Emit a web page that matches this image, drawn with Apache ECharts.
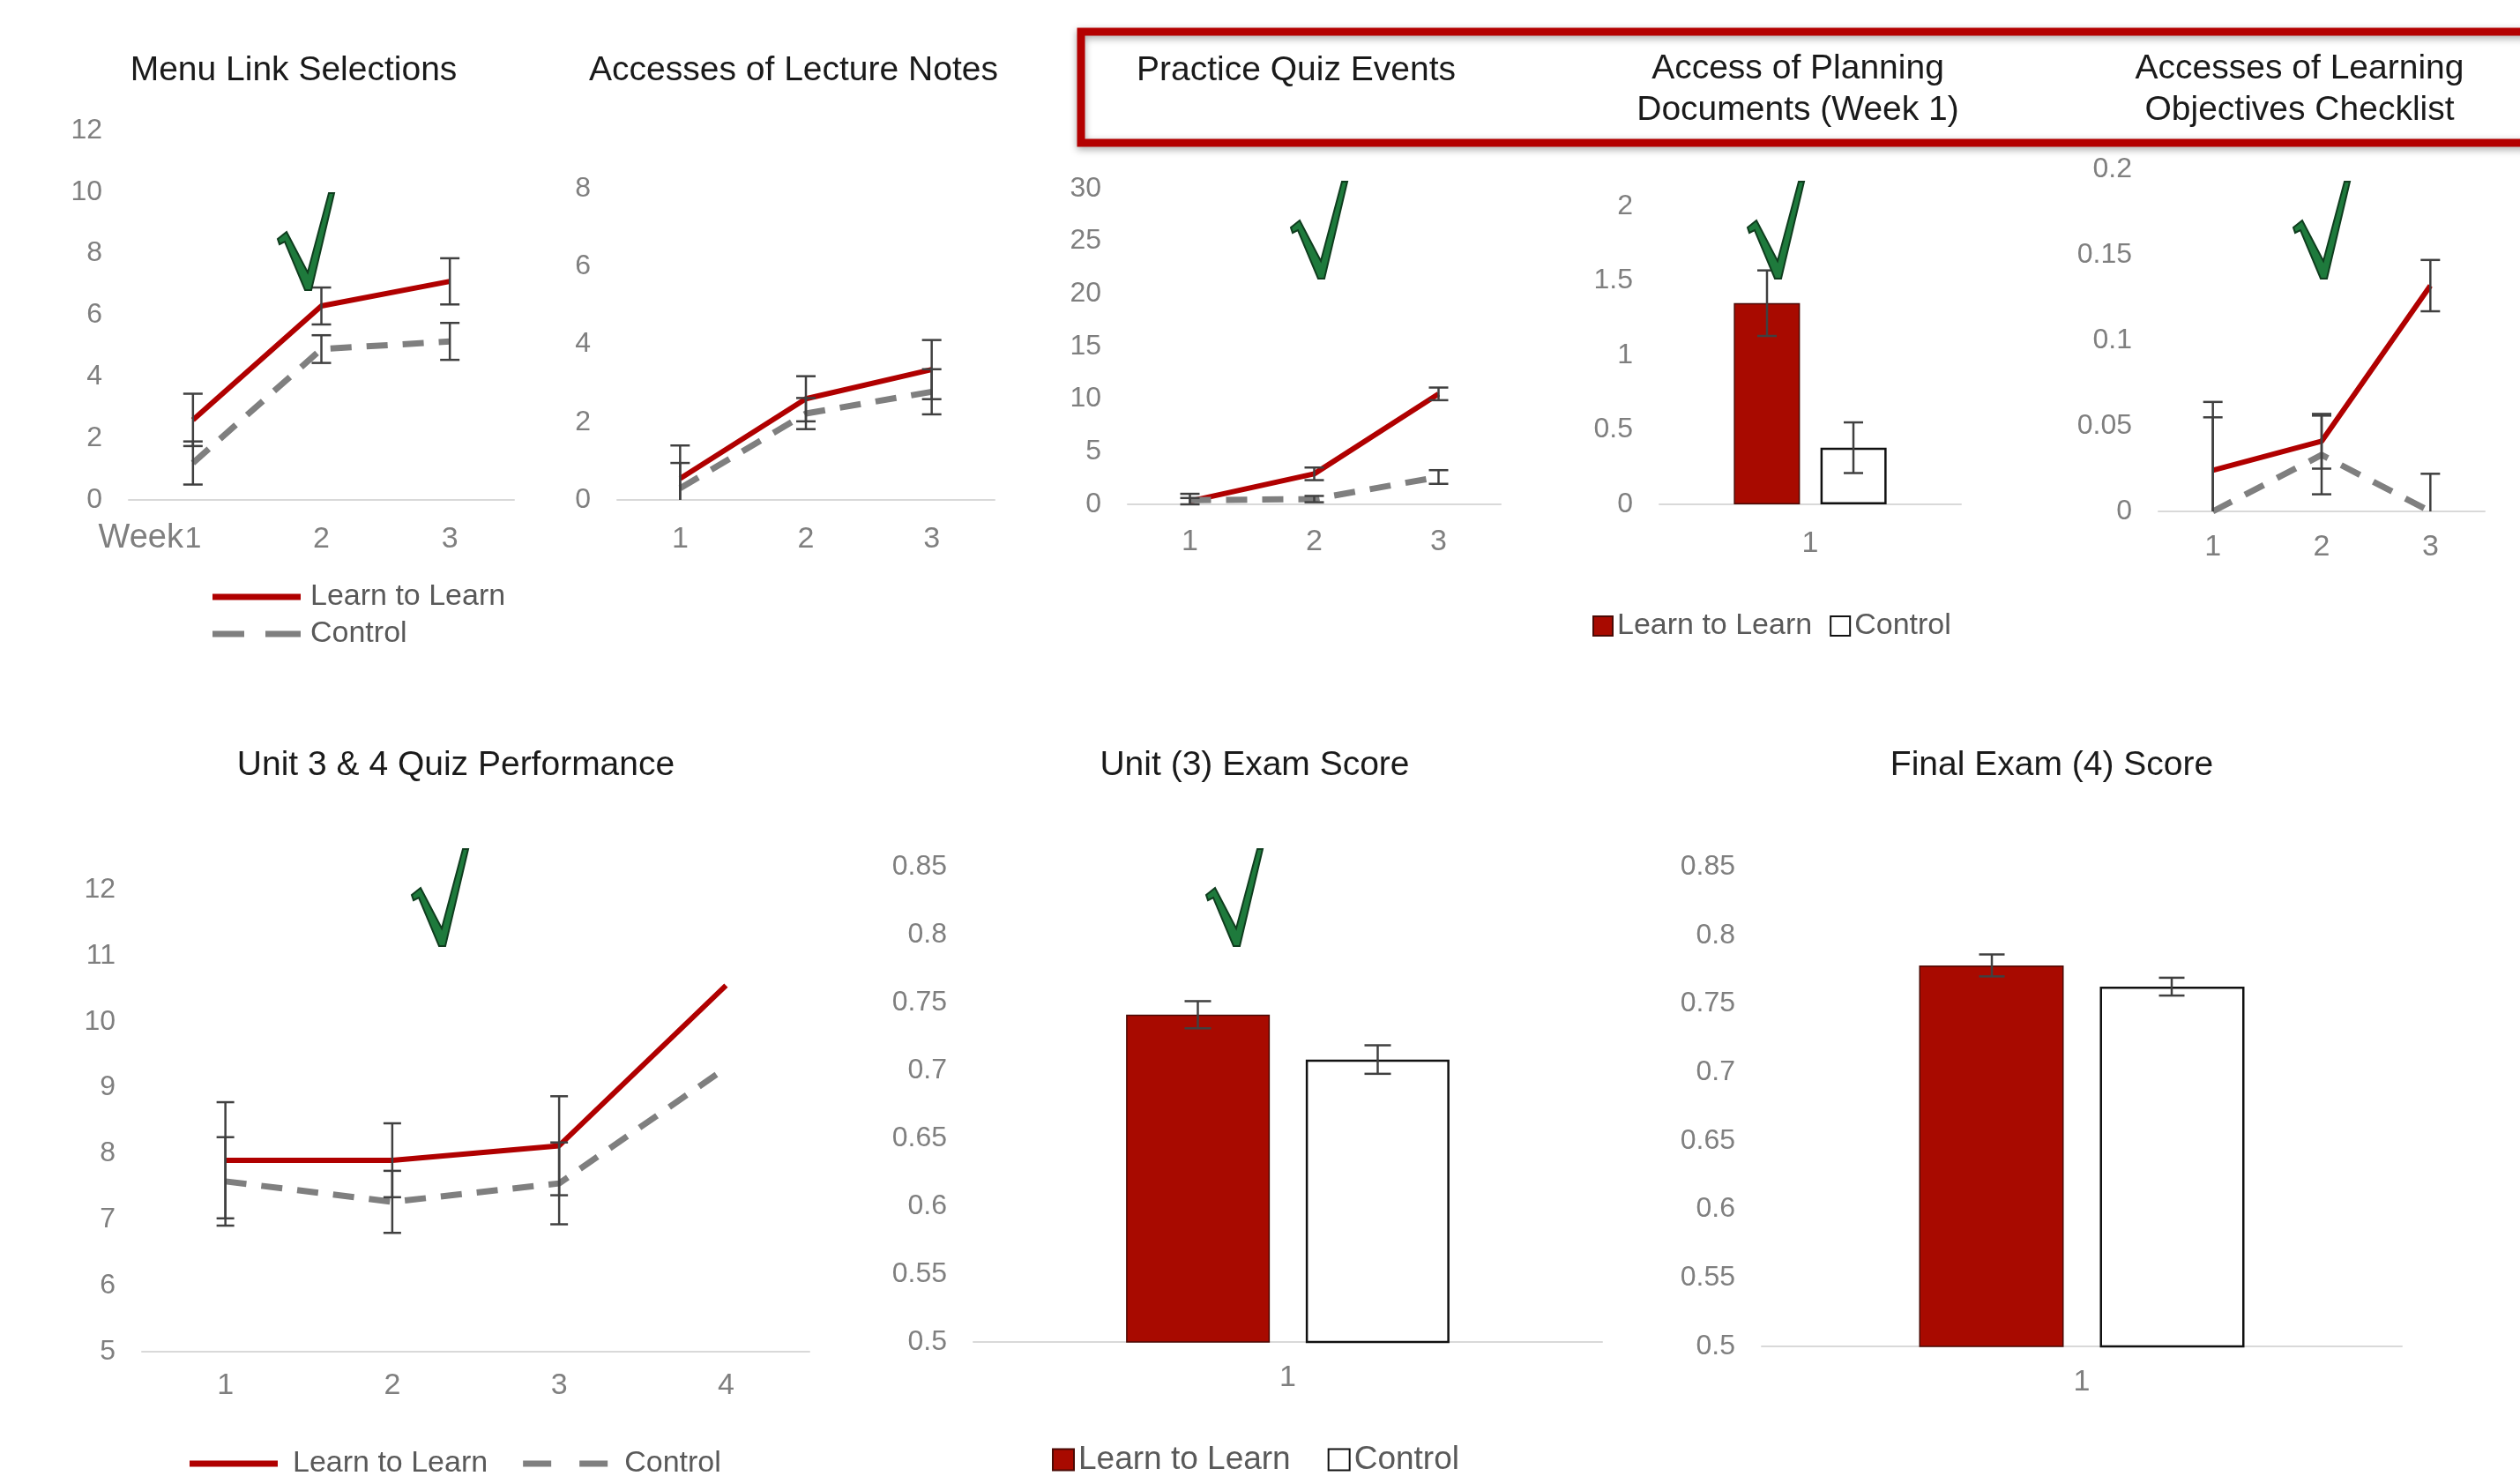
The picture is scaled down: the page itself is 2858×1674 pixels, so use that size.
<!DOCTYPE html>
<html>
<head>
<meta charset="utf-8">
<script src="https://cdn.jsdelivr.net/npm/echarts@6/dist/echarts.min.js"></script>
<style>
  html, body { margin: 0; padding: 0; background: #fff; }
  #chart { width: 2858px; height: 1674px; }
</style>
</head>
<body>
<div id="chart"></div>
<script>
// categories
var weeks = ['1', '2', '3'];
var quizNums = ['1', '2', '3', '4'];
var single = ['1'];

// Menu Link Selections
var menuL2L = [2.6, 6.3, 7.1];
var menuL2LErr = [0.85, 0.6, 0.75];
var menuCtl = [1.2, 4.9, 5.15];
var menuCtlErr = [0.7, 0.45, 0.6];

// Accesses of Lecture Notes
var notesL2L = [0.55, 2.6, 3.35];
var notesL2LErr = [0.85, 0.58, 0.76];
var notesCtl = [0.3, 2.22, 2.78];
var notesCtlErr = [0.65, 0.4, 0.58];

// Practice Quiz Events
var practiceL2L = [0.3, 2.9, 10.5];
var practiceL2LErr = [0.3, 0.6, 0.6];
var practiceCtl = [0.4, 0.5, 2.6];
var practiceCtlErr = [0.6, 0.3, 0.65];

// Access of Planning Documents (Week 1)
var planL2L = [1.35];
var planL2LErr = [0.22];
var planCtl = [0.38];
var planCtlErr = [0.17];

// Accesses of Learning Objectives Checklist
var checkL2L = [0.024, 0.041, 0.132];
var checkL2LErr = [0.04, 0.016, 0.015];
var checkCtl = [0, 0.033, 0];
var checkCtlErr = [0.055, 0.023, 0.022];

// Unit 3 & 4 Quiz Performance
var perfL2L = [7.9, 7.9, 8.12, 10.55];
var perfL2LErr = [0.88, 0.56, 0.75, null];
var perfCtl = [7.58, 7.27, 7.55, 9.3];
var perfCtlErr = [0.67, 0.47, 0.62, null];

// exam scores
var unit3L2L = [0.741];
var unit3L2LErr = [0.01];
var unit3Ctl = [0.708];
var unit3CtlErr = [0.0105];
var finalL2L = [0.778];
var finalL2LErr = [0.008];
var finalCtl = [0.7625];
var finalCtlErr = [0.0065];

var RED = '#b00000';
var GREY = '#7f7f7f';
var FONT = '"Liberation Sans", Arial, sans-serif';

var grids = [], xAxes = [], yAxes = [], series = [];

function addPanel(rect, cats, ymin, ymax, step, labelMargin) {
  var gi = grids.length;
  grids.push({left: rect[0], top: rect[1], width: rect[2], height: rect[3]});
  xAxes.push({
    type: 'category', gridIndex: gi, data: cats, boundaryGap: true,
    axisLine: {lineStyle: {color: '#d9d9d9', width: 2}},
    axisTick: {show: false},
    axisLabel: {color: GREY, fontSize: 34, fontFamily: FONT, margin: labelMargin || 26}
  });
  yAxes.push({
    type: 'value', gridIndex: gi, min: ymin, max: ymax, interval: step,
    axisLine: {show: false}, axisTick: {show: false}, splitLine: {show: false},
    axisLabel: {color: GREY, fontSize: 32, fontFamily: FONT, margin: 30}
  });
  return gi;
}

function lineSeries(gi, name, vals, dashed) {
  return {
    type: 'line', name: name, xAxisIndex: gi, yAxisIndex: gi, data: vals,
    symbol: 'none', z: 3,
    lineStyle: dashed ? {color: GREY, width: 7, type: [24, 17]} : {color: RED, width: 6},
    itemStyle: {color: dashed ? GREY : RED}
  };
}

function barSeries(gi, name, vals, width, gap, isL2L) {
  return {
    type: 'bar', name: name + '|bar', xAxisIndex: gi, yAxisIndex: gi, data: vals,
    barWidth: width, barGap: gap, z: 3,
    itemStyle: isL2L
      ? {color: '#a80a00', borderColor: '#4a0a05', borderWidth: 1.5}
      : {color: '#ffffff', borderColor: '#111111', borderWidth: 2.5}
  };
}

function errSeries(gi, means, errs, offset, cap) {
  var data = [];
  means.forEach(function (m, i) {
    if (errs[i] != null) data.push([i, m - errs[i], m + errs[i]]);
  });
  return {
    type: 'custom', xAxisIndex: gi, yAxisIndex: gi, z: 10, silent: true, data: data,
    encode: {x: 0, y: [1, 2]},
    renderItem: function (params, api) {
      var lo = api.coord([api.value(0), api.value(1)]);
      var hi = api.coord([api.value(0), api.value(2)]);
      var cs = params.coordSys;
      var x = lo[0] + offset;
      var bottom = cs.y + cs.height;
      var clipped = lo[1] > bottom;
      var yb = Math.min(lo[1], bottom);
      var yt = Math.max(hi[1], cs.y);
      var st = {stroke: '#404040', lineWidth: 2.5};
      var kids = [
        {type: 'line', shape: {x1: x, y1: yt, x2: x, y2: yb}, style: st},
        {type: 'line', shape: {x1: x - cap / 2, y1: yt, x2: x + cap / 2, y2: yt}, style: st}
      ];
      if (!clipped) kids.push({type: 'line', shape: {x1: x - cap / 2, y1: yb, x2: x + cap / 2, y2: yb}, style: st});
      return {type: 'group', children: kids};
    }
  };
}

// top row
var g = addPanel([146, 148, 437, 419], weeks, 0, 12, 2, 28);
series.push(lineSeries(g, 'Learn to Learn', menuL2L, false), lineSeries(g, 'Control', menuCtl, true),
  errSeries(g, menuL2L, menuL2LErr, 0, 22), errSeries(g, menuCtl, menuCtlErr, 0, 22));

g = addPanel([700, 214, 428, 353], weeks, 0, 8, 2, 28);
series.push(lineSeries(g, 'Learn to Learn', notesL2L, false), lineSeries(g, 'Control', notesCtl, true),
  errSeries(g, notesL2L, notesL2LErr, 0, 22), errSeries(g, notesCtl, notesCtlErr, 0, 22));

g = addPanel([1279, 214, 423, 358], weeks, 0, 30, 5, 26);
series.push(lineSeries(g, 'Learn to Learn', practiceL2L, false), lineSeries(g, 'Control', practiceCtl, true),
  errSeries(g, practiceL2L, practiceL2LErr, 0, 22), errSeries(g, practiceCtl, practiceCtlErr, 0, 22));

g = addPanel([1882, 234, 342, 338], single, 0, 2, 0.5, 28);
series.push(barSeries(g, 'Learn to Learn', planL2L, 75, '31%', true), barSeries(g, 'Control', planCtl, 75, '31%', false),
  errSeries(g, planL2L, planL2LErr, -49, 22), errSeries(g, planCtl, planCtlErr, 49, 22));

g = addPanel([2448, 192, 370, 388], weeks, 0, 0.2, 0.05, 24);
series.push(lineSeries(g, 'Learn to Learn', checkL2L, false), lineSeries(g, 'Control', checkCtl, true),
  errSeries(g, checkL2L, checkL2LErr, 0, 22), errSeries(g, checkCtl, checkCtlErr, 0, 22));

// bottom row
g = addPanel([161, 1009, 757, 524], quizNums, 5, 12, 1, 22);
series.push(lineSeries(g, 'Learn to Learn', perfL2L, false), lineSeries(g, 'Control', perfCtl, true),
  errSeries(g, perfL2L, perfL2LErr, 0, 20), errSeries(g, perfCtl, perfCtlErr, 0, 20));

g = addPanel([1104, 983, 713, 539], single, 0.5, 0.85, 0.05, 24);
series.push(barSeries(g, 'Learn to Learn', unit3L2L, 163, '25%', true), barSeries(g, 'Control', unit3Ctl, 163, '25%', false),
  errSeries(g, unit3L2L, unit3L2LErr, -102, 30), errSeries(g, unit3Ctl, unit3CtlErr, 102, 30));

g = addPanel([1998, 983, 726, 544], single, 0.5, 0.85, 0.05, 24);
series.push(barSeries(g, 'Learn to Learn', finalL2L, 164, '25%', true), barSeries(g, 'Control', finalCtl, 164, '25%', false),
  errSeries(g, finalL2L, finalL2LErr, -102, 29), errSeries(g, finalCtl, finalCtlErr, 102, 29));

function mkTitle(text, cx, top) {
  return {
    text: text, left: cx, top: top, textAlign: 'center',
    textStyle: {fontSize: 39, fontWeight: 'normal', color: '#1a1a1a', fontFamily: FONT, lineHeight: 47}
  };
}

function checkMark(x, y) {
  return {
    type: 'polygon', z: 50, silent: true, x: x, y: y,
    shape: {points: [[0, 52], [10, 44], [34, 90], [58, 0], [64, 0], [38, 110], [31, 110], [8, 55], [2, 58]]},
    style: {fill: '#1e7a3c', stroke: '#0f3d1e', lineWidth: 2}
  };
}

// legend icons for the line panels: a solid bar and a two-dash bar
function lineLegendData(dashPath) {
  return [
    {name: 'Learn to Learn', icon: 'rect', itemStyle: {color: RED, borderWidth: 0}},
    {name: 'Control', icon: dashPath, itemStyle: {color: GREY, borderWidth: 0}}
  ];
}

var legendText = {fontSize: 34, color: '#595959', fontFamily: FONT};
var fmt = function (n) { return n.split('|')[0]; };

var chart = echarts.init(document.getElementById('chart'));
chart.setOption({
  animation: false,
  backgroundColor: '#ffffff',
  title: [
    mkTitle('Menu Link Selections', 328, 52),
    mkTitle('Accesses of Lecture Notes', 895, 52),
    mkTitle('Practice Quiz Events', 1465, 52),
    mkTitle('Access of Planning\nDocuments (Week 1)', 2034, 50),
    mkTitle('Accesses of Learning\nObjectives Checklist', 2603, 50),
    mkTitle('Unit 3 & 4 Quiz Performance', 512, 840),
    mkTitle('Unit (3) Exam Score', 1418, 840),
    mkTitle('Final Exam (4) Score', 2322, 840)
  ],
  legend: [
    {data: lineLegendData('path://M0,0h36v7h-36z M60,0h40v7h-40z'), orient: 'vertical', left: 236, top: 655,
      itemWidth: 100, itemHeight: 7, itemGap: 8,
      textStyle: Object.assign({lineHeight: 34, padding: [0, 0, 0, 6]}, legendText)},
    {data: lineLegendData('path://M0,0h32v7h-32z M64,0h32v7h-32z'), orient: 'horizontal', left: 210, top: 1638,
      itemWidth: 100, itemHeight: 7, itemGap: 40,
      textStyle: Object.assign({padding: [0, 0, 0, 12]}, legendText)},
    {data: ['Learn to Learn|bar', 'Control|bar'], formatter: fmt, icon: 'rect', left: 1801, top: 688,
      itemWidth: 22, itemHeight: 22, itemGap: 20, textStyle: legendText},
    {data: ['Learn to Learn|bar', 'Control|bar'], formatter: fmt, icon: 'rect', left: 1188, top: 1632,
      itemWidth: 24, itemHeight: 24, itemGap: 42, textStyle: Object.assign({}, legendText, {fontSize: 37})}
  ],
  grid: grids,
  xAxis: xAxes,
  yAxis: yAxes,
  series: series,
  graphic: [
    {type: 'rect', z: 40, silent: true,
      shape: {x: 1226, y: 36, width: 1720, height: 126},
      style: {fill: 'rgba(0,0,0,0)', stroke: '#b40000', lineWidth: 9,
        shadowBlur: 8, shadowColor: 'rgba(0,0,0,0.35)', shadowOffsetY: 3}},
    {type: 'text', z: 40, silent: true,
      style: {text: 'Week', x: 208, y: 611, align: 'right', verticalAlign: 'middle',
        fontSize: 38, fontFamily: FONT, fill: GREY}},
    checkMark(315, 219),
    checkMark(1464, 206),
    checkMark(1982, 206),
    checkMark(2601, 206),
    checkMark(467, 963),
    checkMark(1368, 963)
  ]
});
</script>
</body>
</html>
